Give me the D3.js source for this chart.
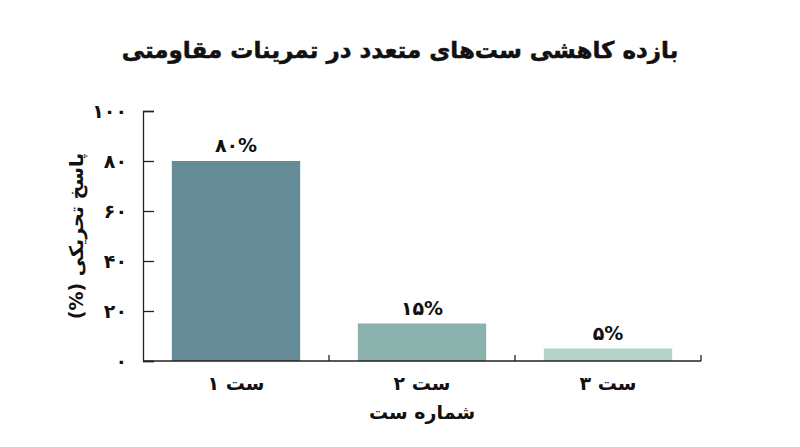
<!DOCTYPE html>
<html>
<head>
<meta charset="utf-8">
<script src="https://cdn.jsdelivr.net/npm/d3@7"></script>
<style>
  body { margin: 0; background: #fff; }
  text { font-family: "DejaVu Sans", sans-serif; font-weight: bold; fill: #111; }
</style>
</head>
<body>
<script>
const categories = ['ست ۱', 'ست ۲', 'ست ۳'];
const values = [80, 15, 5];
const colors = ['#658b97', '#8ab1ac', '#b3d5cb'];
const yTicks = [0, 20, 40, 60, 80, 100];

const width = 800;
const height = 447;
const margin = { top: 111, right: 99, bottom: 86, left: 143 };

const fa = (n) => String(n).replace(/\d/g, (d) => '۰۱۲۳۴۵۶۷۸۹'[d]);

const svg = d3.select('body')
    .append('svg')
    .attr('width', width)
    .attr('height', height);

const x = d3.scaleBand()
    .domain(categories)
    .range([margin.left, width - margin.right])
    .paddingInner(0.31)
    .paddingOuter(0.155);

const y = d3.scaleLinear()
    .domain([0, 100])
    .range([height - margin.bottom, margin.top]);

// title
svg.append('text')
    .attr('x', width / 2)
    .attr('y', 58)
    .attr('text-anchor', 'middle')
    .attr('direction', 'rtl')
    .style('font-size', '23px')
    .style('stroke', '#111')
    .style('stroke-width', 0.5)
    .text('بازده کاهشی ست‌های متعدد در تمرینات مقاومتی');

// bars
svg.append('g')
    .selectAll('rect')
    .data(values)
    .join('rect')
    .attr('x', (d, i) => x(categories[i]))
    .attr('y', (d) => y(d))
    .attr('width', x.bandwidth())
    .attr('height', (d) => y(0) - y(d))
    .attr('fill', (d, i) => colors[i]);

// value labels
svg.append('g')
    .selectAll('text')
    .data(values)
    .join('text')
    .attr('x', (d, i) => x(categories[i]) + x.bandwidth() / 2)
    .attr('y', (d) => y(d) - 9)
    .attr('text-anchor', 'middle')
    .attr('direction', 'ltr')
    .style('font-size', '19px')
    .text((d) => fa(d) + '%');

// y axis
const yAxis = svg.append('g')
    .attr('transform', `translate(${margin.left},0)`)
    .call(d3.axisLeft(y).tickValues(yTicks).tickSize(-11).tickPadding(15).tickFormat(fa));
yAxis.select('.domain').attr('stroke', '#222').attr('stroke-width', 1.3);
yAxis.selectAll('.tick line').attr('stroke', '#222').attr('stroke-width', 1.3);
yAxis.selectAll('.tick text')
    .attr('dx', '-1')
    .style('font-size', '19px')
    .style('font-family', '"DejaVu Sans", sans-serif')
    .style('font-weight', 'bold')
    .attr('fill', '#111');

// x axis: boundary ticks pointing up
const xAxisY = y(0);
const xg = svg.append('g');
xg.append('line')
    .attr('x1', margin.left)
    .attr('x2', width - margin.right)
    .attr('y1', xAxisY)
    .attr('y2', xAxisY)
    .attr('stroke', '#222')
    .attr('stroke-width', 1.3);

const step = x.step();
const bounds = categories.map((c) => x(c) + x.bandwidth() + (step - x.bandwidth()) / 2);
xg.selectAll('.bound')
    .data(bounds)
    .join('line')
    .attr('class', 'bound')
    .attr('x1', (d) => d)
    .attr('x2', (d) => d)
    .attr('y1', xAxisY)
    .attr('y2', xAxisY - 6)
    .attr('stroke', '#222')
    .attr('stroke-width', 1.3);

xg.selectAll('.cat')
    .data(categories)
    .join('text')
    .attr('class', 'cat')
    .attr('x', (d) => x(d) + x.bandwidth() / 2)
    .attr('y', xAxisY + 29)
    .attr('text-anchor', 'middle')
    .attr('direction', 'rtl')
    .style('font-size', '19px')
    .text((d) => d);

// axis titles
svg.append('text')
    .attr('x', (margin.left + width - margin.right) / 2)
    .attr('y', 419)
    .attr('text-anchor', 'middle')
    .attr('direction', 'rtl')
    .style('font-size', '19px')
    .text('شماره ست');

svg.append('text')
    .attr('transform', `translate(83,${(margin.top + xAxisY) / 2}) rotate(-90)`)
    .attr('text-anchor', 'middle')
    .attr('direction', 'rtl')
    .style('font-size', '19px')
    .text('پاسخ تحریکی (%)');
</script>
</body>
</html>
